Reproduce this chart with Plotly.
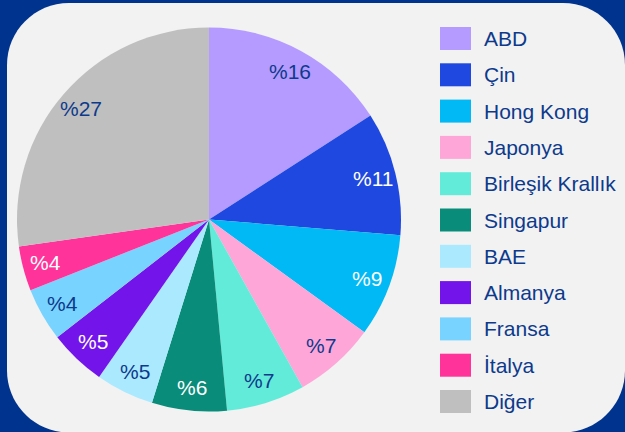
import math
import plotly.graph_objects as go

# ---- data ----
countries = ["ABD", "Çin", "Hong Kong", "Japonya", "Birleşik Krallık", "Singapur",
             "BAE", "Almanya", "Fransa", "İtalya", "Diğer"]
shares = [15.9, 10.4, 8.7, 6.9, 6.6, 6.3, 4.9, 4.8, 4.5, 3.75, 27.25]
share_labels = [16, 11, 9, 7, 7, 6, 5, 5, 4, 4, 27]

# ---- style ----
colors = ["#b59bff", "#1f48e0", "#00b9f5", "#ffa6d9", "#63ebd9", "#0a8c7a",
          "#abe9ff", "#7214ea", "#78d3ff", "#ff3399", "#bfbfbf"]
text_colors = ["#0d3a8c", "#ffffff", "#ffffff", "#0d3a8c", "#0d3a8c", "#ffffff",
               "#0d3a8c", "#ffffff", "#0d3a8c", "#ffffff", "#0d3a8c"]
DARK = "#00338d"
PANEL = "#f2f2f2"
TXT = "#0d3a8c"
FONT = "Liberation Sans, Arial, sans-serif"

W, H = 625, 432
CX, CY, R = 209.0, 219.5, 192.0


def px(x):
    return x / W


def py(y):
    return 1 - y / H


fig = go.Figure()
fig.add_trace(go.Pie(
    labels=countries, values=shares, sort=False, direction="clockwise", rotation=0,
    marker=dict(colors=colors, line=dict(width=0)),
    textinfo="none", hoverinfo="skip", showlegend=False,
    domain=dict(x=[px(CX - R), px(CX + R)], y=[py(CY + R), py(CY - R)]),
))

# rounded panel
x0, y0, x1, y1, rr = 7, 3, 625, 432.5, 62
k = 0.5523 * rr


def P(x, y):
    return f"{px(x):.5f},{py(y):.5f}"


path = (f"M{P(x0 + rr, y0)} L{P(x1 - rr, y0)} "
        f"C{P(x1 - rr + k, y0)} {P(x1, y0 + rr - k)} {P(x1, y0 + rr)} "
        f"L{P(x1, y1 - rr)} "
        f"C{P(x1, y1 - rr + k)} {P(x1 - rr + k, y1)} {P(x1 - rr, y1)} "
        f"L{P(x0 + rr, y1)} "
        f"C{P(x0 + rr - k, y1)} {P(x0, y1 - rr + k)} {P(x0, y1 - rr)} "
        f"L{P(x0, y0 + rr)} "
        f"C{P(x0, y0 + rr - k)} {P(x0 + rr - k, y0)} {P(x0 + rr, y0)} Z")

shapes = [dict(type="path", xref="paper", yref="paper", path=path,
               fillcolor=PANEL, line=dict(width=0), layer="below")]
annotations = []

# slice labels placed along the bisector near the rim
total = sum(shares)
cum = 0.0
for v, lab, tc in zip(shares, share_labels, text_colors):
    mid = (cum + v / 2) / total * 2 * math.pi
    cum += v
    rt = R * 0.88
    tx = CX + rt * math.sin(mid)
    ty = CY - rt * math.cos(mid)
    annotations.append(dict(x=px(tx), y=py(ty), xref="paper", yref="paper",
                            text=f"%{lab}", showarrow=False, xanchor="center",
                            yanchor="middle",
                            font=dict(family=FONT, size=21, color=tc)))

# manual legend
LX, LY, LSW, LSH, LSTEP = 440, 27, 31, 23, 36.3
for i, (name, c) in enumerate(zip(countries, colors)):
    ytop = LY + i * LSTEP
    shapes.append(dict(type="rect", xref="paper", yref="paper",
                       x0=px(LX), x1=px(LX + LSW), y0=py(ytop + LSH), y1=py(ytop),
                       fillcolor=c, line=dict(width=0), layer="above"))
    annotations.append(dict(x=px(482), y=py(ytop + LSH / 2), xref="paper", yref="paper",
                            text=name, showarrow=False, xanchor="left", yanchor="middle",
                            font=dict(family=FONT, size=21, color=TXT)))

fig.update_layout(
    width=W, height=H, margin=dict(l=0, r=0, t=0, b=0),
    paper_bgcolor=DARK, plot_bgcolor=DARK,
    shapes=shapes, annotations=annotations, showlegend=False,
)

fig.write_html("out.html", config={"displayModeBar": False},
               post_script="document.body.style.margin='0';"
                           "document.body.style.overflow='hidden';"
                           "document.body.style.background='" + DARK + "';")
